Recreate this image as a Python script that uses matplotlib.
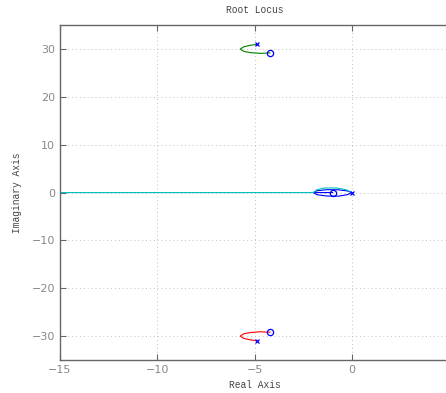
import matplotlib
matplotlib.use("Agg")
import matplotlib.pyplot as plt

# open-loop poles and zeros
pole_re = [0.0, -4.86, -4.86]
pole_im = [0.0, 31.0, -31.0]
zero_re = [-1.0, -4.22, -4.22]
zero_im = [0.0, 29.2, -29.2]

blue_re = [-1.0, -1.5, -1.98, -1.8, -1.3, -0.7, -0.25, 0.0, -0.25, -0.7, -1.3, -1.8, -1.98]
blue_im = [0.0, 0.0, 0.0, -0.45, -0.72, -0.75, -0.45, 0.0, 0.35, 0.58, 0.6, 0.38, 0.0]

green_re = [-4.86, -5.2, -5.55, -5.74, -5.55, -5.2, -4.7, -4.22]
green_im = [31.0, 30.8, 30.5, 30.0, 29.5, 29.25, 29.1, 29.2]

red_re = [-4.86, -5.2, -5.55, -5.74, -5.55, -5.2, -4.7, -4.22]
red_im = [-31.0, -30.8, -30.5, -30.0, -29.5, -29.25, -29.1, -29.2]

cyan_re = [0.0, -0.3, -0.8, -1.4, -1.8, -1.98, -3.0, -6.0, -10.0, -15.0]
cyan_im = [0.0, 0.6, 0.95, 0.95, 0.6, 0.0, 0.0, 0.0, 0.0, 0.0]

xticks = [-15, -10, -5, 0]
yticks = [-30, -20, -10, 0, 10, 20, 30]

fig = plt.figure(figsize=(4.46, 3.93), dpi=100)
ax = fig.add_axes([0.1345, 0.084, 0.873, 0.852])

ax.plot(blue_re, blue_im, color='#0000ff', lw=0.8)
ax.plot(green_re, green_im, color='#008000', lw=0.8)
ax.plot(red_re, red_im, color='#ff0000', lw=0.8)
ax.plot(cyan_re, cyan_im, color='#00bfbf', lw=0.8)

ax.plot(pole_re, pole_im, 'x', color='#0000ff', ms=3.2, mew=0.9)
ax.plot(zero_re, zero_im, 'o', color='#0000ff', mfc='none', ms=4.5, mew=0.9)

ax.set_xlim(-15, 5)
ax.set_ylim(-35, 35)
ax.set_xticks(xticks)
ax.set_yticks(yticks)
ax.grid(True, linestyle=(0, (1, 3)), color='#c0c0c0', lw=0.7)
ax.tick_params(direction='in', length=4, color='#666666', labelcolor='#888888',
               labelsize=8, top=True, right=False)
for s in ax.spines.values():
    s.set_color('#666666')
    s.set_linewidth(1.0)
ax.spines['right'].set_visible(False)

mono = 'Liberation Mono'
ax.set_title('Root Locus', fontsize=6.9, family=mono, color='#444444', pad=9)
ax.set_xlabel('Real Axis', fontsize=6.9, family=mono, color='#444444', labelpad=4)
ax.set_ylabel('Imaginary Axis', fontsize=6.9, family=mono, color='#444444', labelpad=7)

fig.savefig('out.png', dpi=100)
